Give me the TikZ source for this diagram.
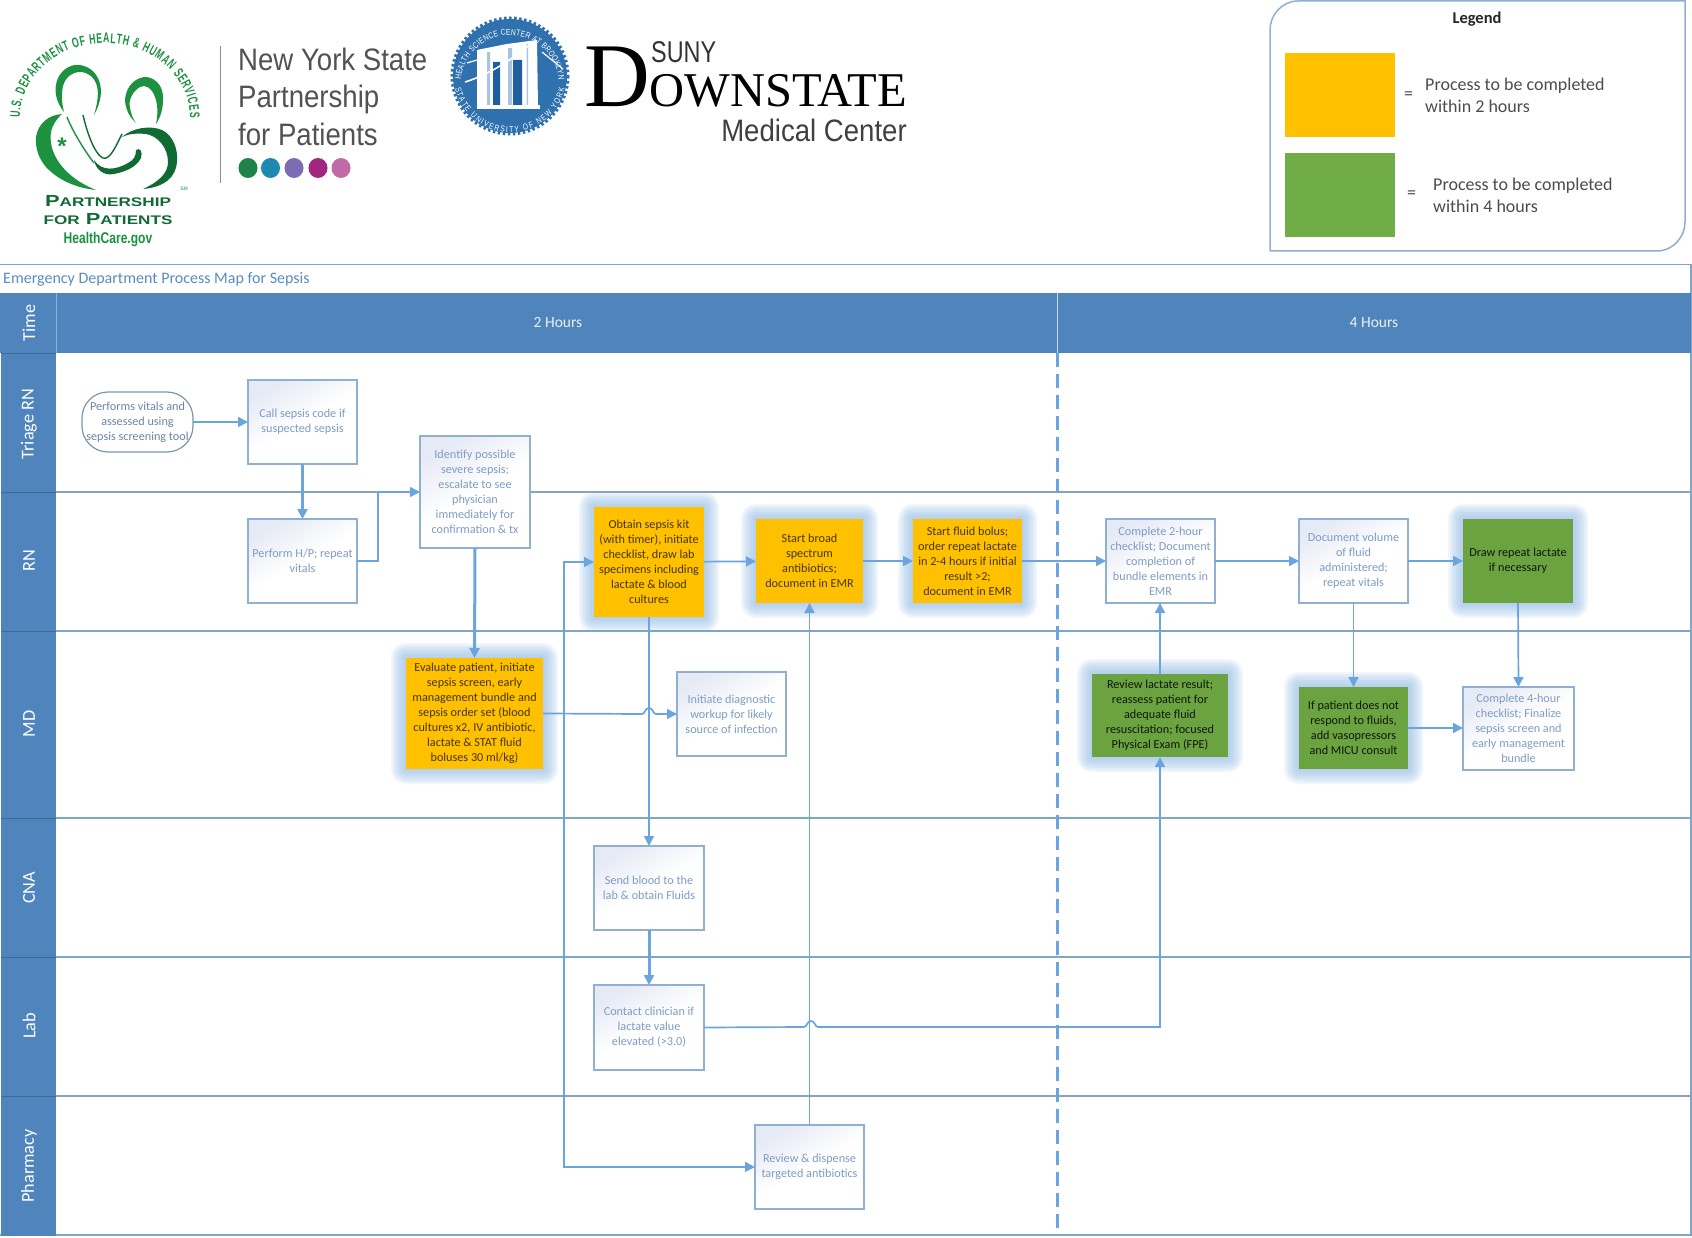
\documentclass[tikz,border=0pt]{standalone}
\usepackage{fontspec}
\setmainfont{Carlito}
\newfontfamily\libs{Liberation Sans}
\newfontfamily\libn[FakeStretch=0.89]{Liberation Sans}
\newfontfamily\libc[FakeStretch=0.78]{Liberation Sans}
\newfontfamily\libcc[FakeStretch=0.62]{Liberation Sans}
\newfontfamily\libx[FakeStretch=1.37]{Liberation Sans}
\newfontfamily\libser{Liberation Serif}
\usetikzlibrary{arrows.meta,decorations.text}
\definecolor{hdr}{HTML}{4F84BC}
\definecolor{lane}{HTML}{7FA5C8}
\definecolor{laneg}{HTML}{8AA3B8}
\definecolor{flowc}{HTML}{6AA5E0}
\definecolor{boxline}{HTML}{8FB0D2}
\definecolor{boxtxt}{HTML}{7F9CC4}
\definecolor{orangef}{HTML}{FFC000}
\definecolor{greenf}{HTML}{6AA33F}
\definecolor{legreen}{HTML}{70AD47}
\definecolor{glowc}{HTML}{9CC3E8}
\definecolor{pfp}{HTML}{1C9140}
\definecolor{pfpd}{HTML}{0F6A33}
\definecolor{seal}{HTML}{2F70AE}
\definecolor{seald}{HTML}{1F5F9F}
\definecolor{seall}{HTML}{A9C4E0}
\definecolor{paleb}{HTML}{E6EAF5}
\definecolor{dota}{HTML}{1E8449}
\definecolor{dotb}{HTML}{1F8AB0}
\definecolor{dotc}{HTML}{7B6DB3}
\definecolor{dotd}{HTML}{A0267F}
\definecolor{dote}{HTML}{C06BA8}
\tikzset{
  x=1pt,y=-1pt,
  fs/.style={font=\fontsize{#1}{15}\selectfont},
  base/.style={align=center,inner sep=0pt,outer sep=0pt,fs=12.2},
  wbox/.style={base,draw=boxline,line width=1.2pt,top color=paleb,bottom color=white,middle color=white,shading angle=30,text=boxtxt},
  obox/.style={base,fill=orangef,text=black!72!orangef},
  gbox/.style={base,fill=greenf,text=black!85!greenf},
  term/.style={base,draw=boxline!85!black,line width=1.2pt,fill=white,rounded corners=26pt,text=boxtxt!85!black},
  flow/.style={draw=flowc,line width=1.7pt,-{Triangle[length=10pt,width=10pt]}},
  flowb/.style={flow,line width=3pt},
  flowp/.style={draw=flowc,line width=1.7pt},
  laneline/.style={draw=lane,line width=1.5pt},
  lanelab/.style={text=white,rotate=90,inner sep=0pt,fs=18.2},
  hdrlab/.style={text=white!88!hdr,inner sep=0pt,fs=15.5},
  legtxt/.style={align=left,anchor=west,inner sep=0pt,text=black!70,font=\fontsize{18}{22}\selectfont},
  nylab/.style={anchor=base west,inner sep=0pt,text=black!68,font=\libn\fontsize{31}{31}\selectfont},
}
\newcommand\glowrect[4]{%
  \foreach \g in {15,13,11,9,7,5,3,1}{%
    \fill[glowc,opacity=.15,rounded corners=\g pt] (#1-\g,#2-\g) rectangle (#3+\g,#4+\g);}}
\newcommand\procbox[7]{%
  \pgfmathsetmacro\bw{#4-#2}\pgfmathsetmacro\bh{#5-#3}%
  \pgfmathsetmacro\bcx{(#4+#2)/2}\pgfmathsetmacro\bcy{(#5+#3)/2}%
  \node[#6,minimum width=\bw pt,minimum height=\bh pt] (#1) at (\bcx,\bcy) {#7};}
\begin{document}
\begin{tikzpicture}
\useasboundingbox (0,0) rectangle (1692,1238);
\fill[white] (0,0) rectangle (1692,1238);

% ---------- Partnership for Patients logo
\path[decorate,decoration={text along path,text align={fit to path},
  text={|\libcc\bfseries\fontsize{14}{14}\selectfont\color{pfp}|U.S. DEPARTMENT OF HEALTH {\&} HUMAN SERVICES}}]
  (20,118) arc[start angle=180,end angle=0,x radius=85pt,y radius=75pt];
% left head
\fill[pfp] (64,112) .. controls (56,102) and (53,90) .. (58,78) .. controls (63,68) and (72,64) .. (80,65)
  .. controls (92,67) and (100,76) .. (101,90) .. controls (101,100) and (98,108) .. (94,115)
  .. controls (97,105) and (99,95) .. (97,86) .. controls (95,78) and (88,72) .. (80,72)
  .. controls (72,72) and (65,78) .. (63,86) .. controls (61,96) and (62,104) .. (64,112) -- cycle;
% right head
\fill[pfp] (136,123) .. controls (128,116) and (123,104) .. (126,94) .. controls (129,83) and (138,77) .. (146,77)
  .. controls (157,78) and (164,88) .. (163,100) .. controls (163,110) and (160,118) .. (156,124)
  .. controls (158,114) and (158,105) .. (155,97) .. controls (152,88) and (145,84) .. (140,87)
  .. controls (133,91) and (128,100) .. (130,108) .. controls (131,114) and (133,119) .. (136,123) -- cycle;
% left body
\fill[pfp] (62,114) .. controls (48,115) and (38,124) .. (36,137) .. controls (35,150) and (40,160) .. (46,167)
  .. controls (58,180) and (76,188) .. (96,190) .. controls (76,182) and (58,168) .. (52,148)
  .. controls (49,136) and (50,125) .. (62,114) -- cycle;
% right body
\fill[pfpd] (122,137) .. controls (132,128) and (150,125) .. (162,130) .. controls (174,136) and (178,150) .. (177,162)
  .. controls (176,176) and (166,187) .. (143,189) .. controls (158,182) and (168,174) .. (168,162)
  .. controls (168,148) and (158,136) .. (146,134) .. controls (136,133) and (128,134) .. (122,137) -- cycle;
% stethoscope and hand
\draw[pfpd,line width=1.4pt] (83,115) .. controls (86,128) and (92,148) .. (100,156) .. controls (108,164) and (114,150) .. (122,134);
\draw[pfp,line width=1.4pt] (67,117) .. controls (72,130) and (84,150) .. (94,163);
\fill[pfpd] (94,160) .. controls (102,172) and (116,170) .. (128,163) .. controls (134,160) and (136,156) .. (136,150)
  .. controls (140,147) and (143,152) .. (141,158) .. controls (136,168) and (124,172) .. (114,174)
  .. controls (104,176) and (96,170) .. (94,160) -- cycle;
\node[pfp,inner sep=0pt,font=\libs\bfseries\fontsize{24}{24}\selectfont] (star) at (62,146) {*};
\node[pfp,inner sep=0pt,font=\libs\fontsize{5}{5}\selectfont] (sm) at (184,189) {SM};
\node[pfpd,inner sep=0pt,font=\libx\bfseries\fontsize{16}{16}\selectfont] (ppa) at (108,201) {P{\fontsize{12.5}{12.5}\selectfont ARTNERSHIP}};
\node[pfpd,inner sep=0pt,font=\libx\bfseries\fontsize{16}{16}\selectfont] (ppb) at (108,219) {{\fontsize{12.5}{12.5}\selectfont FOR} P{\fontsize{12.5}{12.5}\selectfont ATIENTS}};
\node[pfp,inner sep=0pt,font=\libc\bfseries\fontsize{15.5}{15.5}\selectfont] (hc) at (108,240) {HealthCare.gov};

% ---------- NY State Partnership
\draw[black!45,line width=1pt] (220.5,46) -- (220.5,183);
\node[nylab] (nya) at (238,71) {New York State};
\node[nylab] (nyb) at (238,108) {Partnership};
\node[nylab] (nyc) at (238,146) {for Patients};
\fill[dota] (248,168) ellipse [x radius=9.5,y radius=10];
\fill[dotb] (270.5,168) ellipse [x radius=9.5,y radius=10];
\fill[dotc] (294,168) ellipse [x radius=9.5,y radius=10];
\fill[dotd] (318,168) ellipse [x radius=9.5,y radius=10];
\fill[dote] (341,168) ellipse [x radius=9.5,y radius=10];

% ---------- Seal
\fill[seal] (510,76) circle [radius=57];
\draw[seal,line width=4pt,dash pattern=on 2.5pt off 2.5pt] (510,76) circle [radius=57.5];
\path[decorate,decoration={text along path,text align={fit to path},
  text={|\libc\fontsize{8.5}{9}\selectfont\color{white}|HEALTH SCIENCE CENTER AT BROOKLYN}}]
  (461,80) arc[start angle=175,end angle=5,radius=49pt];
\path[decorate,decoration={text along path,text align={fit to path},
  text={|\libc\fontsize{8.5}{9}\selectfont\color{white}|STATE UNIVERSITY OF NEW YORK}}]
  (455.2,88) arc[start angle=192,end angle=348,radius=56pt];
\fill[white] (477,50) -- (507,44) -- (537,40) -- (538,107) -- (477,107) -- cycle;
\fill[seall] (487,52) rectangle (490,105) (508,48) rectangle (512,105) (526.5,44) rectangle (528,105);
\fill[seald] (493,62) rectangle (500,105) (513,60) rectangle (522,105);
\fill[white] (477,105) rectangle (540,109);
\draw[white,line width=1.6pt] (465,82) .. controls (485,76) and (510,62) .. (533,42);
\draw[white,line width=1.2pt] (467,63) -- (477,60);
\draw[white,line width=1.2pt] (542,52) -- (563,69);

% ---------- Downstate
\node[anchor=base west,inner sep=0pt,font=\libser\fontsize{91}{91}\selectfont] (dd) at (584,107) {D};
\node[anchor=base east,inner sep=0pt,font=\libser\fontsize{48.5}{48.5}\selectfont] (ds) at (907,107) {OWNSTATE};
\node[anchor=base west,inner sep=0pt,text=black!80,font=\libc\fontsize{30}{30}\selectfont] (su) at (651,63) {SUNY};
\node[anchor=base east,inner sep=0pt,text=black!75,font=\libn\fontsize{31}{31}\selectfont] (mc) at (907,142) {Medical Center};

% ---------- Legend
\draw[draw=boxline,line width=1.5pt] (1270,251) -- (1270,30) .. controls (1270,15) and (1282,1) .. (1298,1)
  -- (1685,1) -- (1685,222) .. controls (1685,237) and (1673,251) .. (1657,251) -- cycle;
\node[inner sep=0pt,font=\bfseries\fontsize{16.5}{18}\selectfont,text=black!85] (legt) at (1477,19) {Legend};
\procbox{leg1}{1285}{53}{1395}{137}{base,fill=orangef}{}
\procbox{leg2}{1285}{153}{1395}{237}{base,fill=legreen}{}
\node[legtxt] (eq1) at (1404,96) {=};
\node[legtxt] (lt1) at (1425,95) {Process to be completed\\within 2 hours};
\node[legtxt] (eq2) at (1407,195) {=};
\node[legtxt] (lt2) at (1433,195) {Process to be completed\\within 4 hours};

% ---------- Glows
\glowrect{406}{658}{543}{769}
\glowrect{594}{507}{704}{617}
\glowrect{756}{519}{863}{603}
\glowrect{913}{519}{1022}{603}
\glowrect{1463}{519}{1573}{603}
\glowrect{1092}{674}{1228}{757}
\glowrect{1299}{687}{1408}{769}

% ---------- Swimlane frame
\node[anchor=west,inner sep=0pt,text=seal!80!white,font=\fontsize{16}{18}\selectfont] (ttl) at (3,279) {Emergency Department Process Map for Sepsis};
\draw[lane,line width=1.3pt] (0,264.5) -- (1691,264.5) -- (1691,1235) -- (0,1235);
\fill[hdr] (0,293) rectangle (1691,353);
\fill[hdr] (1,353) rectangle (56,1236);
\draw[white!70!hdr,line width=.8pt] (1057.5,293) -- (1057.5,353);
\draw[white!35!hdr,line width=.8pt] (56,293) -- (56,353);
\foreach \yy in {353,492,631,818,957,1096}{\draw[hdr!80!black,line width=.8pt] (1,\yy) -- (56,\yy);}
\foreach \yy in {631,818,957}{\draw[laneline] (56,\yy) -- (1691,\yy);}
\foreach \yy in {492,1096}{\draw[laneline,draw=laneg] (56,\yy) -- (1691,\yy);}
\draw[draw=flowc,line width=3pt,dash pattern=on 14pt off 7pt] (1057.5,353) -- (1057.5,1235);
\node[lanelab] (l0) at (29,323) {Time};
\node[lanelab] (l1) at (29,424) {Triage RN};
\node[lanelab] (l2) at (29,561) {RN};
\node[lanelab] (l3) at (29,724) {MD};
\node[lanelab] (l4) at (29,888) {CNA};
\node[lanelab] (l5) at (29,1026) {Lab};
\node[lanelab] (l6) at (29,1166) {Pharmacy};
\node[hdrlab] (h2) at (558,323) {2 Hours};
\node[hdrlab] (h4) at (1374,323) {4 Hours};

% ---------- Process boxes
\procbox{tm}{82}{392}{193}{452}{term}{Performs vitals and\\assessed using\\sepsis screening tool}
\procbox{call}{248}{380}{357}{464}{wbox}{Call sepsis code if\\suspected sepsis}
\procbox{hp}{248}{519}{357}{603}{wbox}{Perform H/P; repeat\\vitals}
\procbox{idn}{420}{436}{530}{548}{wbox}{Identify possible\\severe sepsis;\\escalate to see\\physician\\immediately for\\confirmation \& tx}
\procbox{ev}{406}{658}{543}{769}{obox}{Evaluate patient, initiate\\sepsis screen, early\\management bundle and\\sepsis order set (blood\\cultures x2, IV antibiotic,\\lactate \& STAT fluid\\boluses 30 ml/kg)}
\procbox{ob}{594}{507}{704}{617}{obox}{Obtain sepsis kit\\(with timer), initiate\\checklist, draw lab\\specimens including\\lactate \& blood\\cultures}
\procbox{br}{756}{519}{863}{603}{obox}{Start broad\\spectrum\\antibiotics;\\document in EMR}
\procbox{fl}{913}{519}{1022}{603}{obox}{Start fluid bolus;\\order repeat lactate\\in 2-4 hours if initial\\result >2;\\document in EMR}
\procbox{ini}{677}{672}{786}{756}{wbox}{Initiate diagnostic\\workup for likely\\source of infection}
\procbox{ctw}{1106}{519}{1215}{603}{wbox}{Complete 2-hour\\checklist; Document\\completion of\\bundle elements in\\EMR}
\procbox{doc}{1299}{519}{1408}{603}{wbox}{Document volume\\of fluid\\administered;\\repeat vitals}
\procbox{dr}{1463}{519}{1573}{603}{gbox}{Draw repeat lactate\\if necessary}
\procbox{rev}{1092}{674}{1228}{757}{gbox}{Review lactate result;\\reassess patient for\\adequate fluid\\resuscitation; focused\\Physical Exam (FPE)}
\procbox{ifp}{1299}{687}{1408}{769}{gbox}{If patient does not\\respond to fluids,\\add vasopressors\\and MICU consult}
\procbox{cfr}{1463}{687}{1574}{770}{wbox}{Complete 4-hour\\checklist; Finalize\\sepsis screen and\\early management\\bundle}
\procbox{snd}{594}{846}{704}{930}{wbox}{Send blood to the\\lab \& obtain Fluids}
\procbox{ctc}{594}{985}{704}{1070}{wbox}{Contact clinician if\\lactate value\\elevated (>3.0)}
\procbox{dsp}{755}{1125}{864}{1209}{wbox}{Review \& dispense\\targeted antibiotics}

% ---------- Connectors
\coordinate (hpx) at (378,561);
\coordinate (hpy) at (378,492);
\coordinate (spl) at (564,714);
\coordinate (ba) at (642,714);
\coordinate (bb) at (656,714);
\coordinate (ca) at (804,1027);
\coordinate (cb) at (818,1027);
\draw[flow] (tm.east) -- (call.west);
\draw[flowb] (call.south) -- (hp.north);
\draw[flowp] (hp.east) -- (hpx) -- (hpy);
\draw[flow] (hpy) -- (idn.west);
\draw[flowb] (idn.south) -- (ev.north);
\draw[flow] (ev.east) -- (ba) .. controls (645,714) and (645,708) .. (649,708) .. controls (653,708) and (653,714) .. (bb) -- (ini.west);
\draw[flow] (spl) |- (ob.west);
\draw[flow] (spl) |- (dsp.west);
\draw[flow] (ob.south) -- (snd.north);
\draw[flowb] (snd.south) -- (ctc.north);
\draw[flow] (ob) -- (br);
\draw[flow] (br) -- (fl);
\draw[flow] (fl) -- (ctw);
\draw[flow] (ctw) -- (doc);
\draw[flow] (doc) -- (dr);
\draw[flow] (doc.south) -- (ifp.north);
\draw[flow] (dr.south) -- (cfr.north);
\draw[flow] (ifp.east) -- (ifp.east -| cfr.west);
\draw[flow] (rev.north) -- (rev.north |- ctw.south);
\draw[flow] (dsp.north -| br.south) -- (br.south);
\draw[flow] (ctc.east) -- (ca) .. controls (807,1027) and (807,1021) .. (811,1021) .. controls (815,1021) and (815,1027) .. (cb) -| (rev.south);
\end{tikzpicture}
\end{document}
